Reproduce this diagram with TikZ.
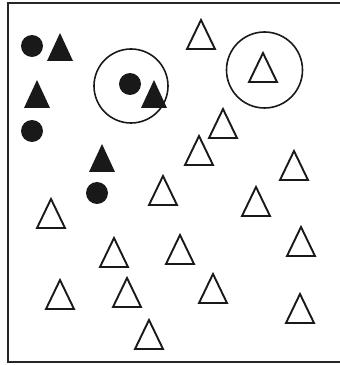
\documentclass[tikz,border=0pt]{standalone}
\usetikzlibrary{positioning}
\tikzset{
    frame/.style={line width=2.2pt, draw=black!85},
    dot/.style={circle, fill=black!90, minimum size=22pt, inner sep=0pt},
    ring/.style={circle, draw=black!90, line width=1.6pt, inner sep=0pt},
    opentri/.pic={\draw[line width=1.9pt, line join=miter, draw=black!90](-14,0)--(0,29)--(14,0)--cycle;},
    solidtri/.pic={\fill[black!90](-13,0)--(0,28)--(13,0)--cycle;}
}

\begin{document}
\begin{tikzpicture}[x=1pt, y=1pt]
  \useasboundingbox (0,0) rectangle (340,365);
  \clip (0,0) rectangle (340,365);
  \draw[frame](350,362)--(8,362)--(8,3)--(350,3);
  % filled ones
  \node(C1)[dot] at (32,319){};
  \node(C2)[dot] at (32,234){};
  \node(C3)[dot] at (130,281){};
  \node(C4)[dot] at (97,172){};
  \pic(F1) at (60,304){solidtri};
  \pic(F2) at (37,257){solidtri};
  \pic(F3) at (154,257){solidtri};
  \pic(F4) at (102,193){solidtri};
  % the two circled groups
  \node(B1)[ring, minimum size=74pt] at (131,279){};
  \node(B2)[ring, minimum size=76pt] at (264.5,295){};
  % open triangles
  \pic(T1) at (201,316){opentri};
  \pic(T2) at (263,283){opentri};
  \pic(T3) at (223,227){opentri};
  \pic(T4) at (199,200){opentri};
  \pic(T5) at (294,185){opentri};
  \pic(T6) at (256,149){opentri};
  \pic(T7) at (301,109){opentri};
  \pic(T8) at (180,101){opentri};
  \pic(T9) at (213,62){opentri};
  \pic(T10) at (300,42){opentri};
  \pic(T11) at (163,160){opentri};
  \pic(T12) at (51,137){opentri};
  \pic(T13) at (114,98){opentri};
  \pic(T14) at (60,56){opentri};
  \pic(T15) at (127,58){opentri};
  \pic(T16) at (149,16){opentri};
\end{tikzpicture}
\end{document}
